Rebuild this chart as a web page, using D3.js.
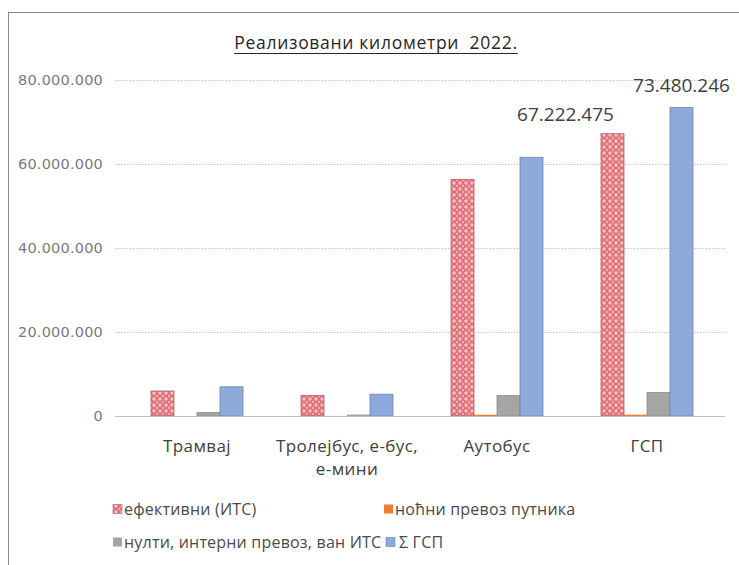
<!DOCTYPE html>
<html><head><meta charset="utf-8">
<script src="https://cdn.jsdelivr.net/npm/d3@7"></script>
<style>
html,body{margin:0;padding:0;background:#fff;}
svg{display:block;}
</style>
</head><body>
<svg id="chart" width="739" height="565"></svg>
<script>
const title = "Реализовани километри  2022.";
const categories = ["Трамвај", "Тролејбус, е-бус, е-мини", "Аутобус", "ГСП"];
const categoryLines = [["Трамвај"], ["Тролејбус, е-бус,", "е-мини"], ["Аутобус"], ["ГСП"]];
const seriesNames = ["ефективни (ИТС)", "ноћни превоз путника", "нулти, интерни превоз, ван ИТС", "Σ ГСП"];
const effective = [5950000, 4900000, 56350000, 67222475];
const night = [0, 20000, 300000, 320000];
const nullInternal = [850000, 350000, 4900000, 5600000];
const totalGSP = [6950000, 5200000, 61600000, 73480246];
const yTicks = [0, 20000000, 40000000, 60000000, 80000000];
const labelled = [{series: 0, cat: 3}, {series: 3, cat: 3}];

const seriesValues = [effective, night, nullInternal, totalGSP];
const colors = ["url(#redPattern)", "#ed7d31", "#a5a5a5", "#8eaadb"];
const strokes = ["#b06060", "#ed7d31", "#8c8c8c", "#6f83aa"];

const svg = d3.select("#chart");
const defs = svg.append("defs");
const pat = defs.append("pattern").attr("id", "redPattern").attr("patternUnits", "userSpaceOnUse")
  .attr("width", 6).attr("height", 6);
pat.append("rect").attr("width", 6).attr("height", 6).attr("fill", "#e0707a");
pat.append("circle").attr("cx", 3).attr("cy", 3).attr("r", 1.7).attr("fill", "#f7c4c4");
pat.append("circle").attr("cx", 0).attr("cy", 0).attr("r", 1.2).attr("fill", "#f2b0b0");
pat.append("circle").attr("cx", 6).attr("cy", 0).attr("r", 1.2).attr("fill", "#f2b0b0");
pat.append("circle").attr("cx", 0).attr("cy", 6).attr("r", 1.2).attr("fill", "#f2b0b0");
pat.append("circle").attr("cx", 6).attr("cy", 6).attr("r", 1.2).attr("fill", "#f2b0b0");

// frame
svg.append("rect").attr("x", 8.5).attr("y", 12.5).attr("width", 740).attr("height", 560)
  .attr("fill", "none").attr("stroke", "#8a8a8a").attr("stroke-width", 1);

const x0 = d3.scaleBand().domain(categories).range([122, 722])
  .paddingInner(58 / 150).paddingOuter(29 / 150);
const x1 = d3.scaleBand().domain(d3.range(seriesNames.length)).range([0, x0.bandwidth()]);
const y = d3.scaleLinear().domain([0, 80000000]).range([416, 80]);

const fmt = v => d3.format(",")(v).replace(/,/g, ".");

// gridlines
const gx0 = x0.range()[0] - 7, gx1 = x0.range()[1] + 3;
svg.append("g").selectAll("line").data(yTicks.filter(d => d > 0)).join("line")
  .attr("x1", gx0).attr("x2", gx1)
  .attr("y1", d => Math.round(y(d)) + 0.5).attr("y2", d => Math.round(y(d)) + 0.5)
  .attr("stroke", "#c4c4c4").attr("stroke-width", 1).attr("stroke-dasharray", "1.5,1.5");

// y tick labels
svg.append("g").selectAll("text").data(yTicks).join("text")
  .attr("x", 103).attr("y", d => y(d)).attr("dy", "0.35em").attr("text-anchor", "end")
  .attr("font-family", "DejaVu Sans").attr("font-size", "14.5px").attr("letter-spacing", "0.2px")
  .attr("fill", "#7a7a7a")
  .text(d => fmt(d));

// bars
const groups = svg.append("g").selectAll("g").data(categories).join("g")
  .attr("transform", d => `translate(${x0(d)},0)`);
groups.selectAll("rect").data((c, ci) => seriesValues.map((arr, si) => ({si, v: arr[ci]})))
  .join("rect")
  .attr("x", d => x1(d.si)).attr("width", x1.bandwidth())
  .attr("y", d => y(d.v)).attr("height", d => y(0) - y(d.v))
  .attr("fill", d => colors[d.si])
  .attr("stroke", d => d.v > 500000 ? strokes[d.si] : "none").attr("stroke-width", 0.8);

// baseline
svg.append("line").attr("x1", gx0).attr("x2", gx1).attr("y1", y(0) + 0.5).attr("y2", y(0) + 0.5)
  .attr("stroke", "#bfbfbf").attr("stroke-width", 1);

// data labels
const labelOffsets = [-47, 0];
svg.append("g").selectAll("text").data(labelled).join("text")
  .attr("x", (d, i) => x0(categories[d.cat]) + x1(d.series) + x1.bandwidth() / 2 + labelOffsets[i])
  .attr("y", (d, i) => y(seriesValues[d.series][d.cat]) - (i === 0 ? 13 : 15))
  .attr("text-anchor", "middle").attr("font-family", "Open Sans").attr("font-size", "19px")
  .attr("fill", "#404040")
  .text(d => fmt(seriesValues[d.series][d.cat]));

// category labels
const catG = svg.append("g").selectAll("text").data(categories).join("text")
  .attr("x", d => x0(d) + x0.bandwidth() / 2).attr("y", 452)
  .attr("text-anchor", "middle").attr("font-family", "Open Sans").attr("font-size", "17px")
  .attr("letter-spacing", "0.4px").attr("fill", "#404040");
catG.selectAll("tspan").data((d, i) => categoryLines[i]).join("tspan")
  .attr("x", function() { return d3.select(this.parentNode).attr("x"); })
  .attr("dy", (d, i) => i === 0 ? 0 : 23).text(d => d);

// title
const t = svg.append("text").attr("x", 376).attr("y", 49).attr("text-anchor", "middle")
  .attr("font-family", "Open Sans").attr("font-size", "17.5px").attr("letter-spacing", "0.7px")
  .attr("fill", "#262626")
  .attr("xml:space", "preserve").style("white-space", "pre").text(title);
const bb = t.node().getBBox();
svg.append("line").attr("x1", bb.x).attr("x2", bb.x + bb.width).attr("y1", 53.5).attr("y2", 53.5)
  .attr("stroke", "#262626").attr("stroke-width", 1);

// legend
const legendPos = [{x: 113, y: 509}, {x: 384, y: 509}, {x: 113, y: 542}, {x: 386, y: 542}];
const lg = svg.append("g").selectAll("g").data(seriesNames).join("g")
  .attr("transform", (d, i) => `translate(${legendPos[i].x},${legendPos[i].y})`);
lg.append("rect").attr("x", 0).attr("y", -4.5).attr("width", 9).attr("height", 9)
  .attr("fill", (d, i) => colors[i]).attr("stroke", (d, i) => i === 0 || i === 3 ? strokes[i] : "none")
  .attr("stroke-width", 0.6);
lg.append("text").attr("x", (d, i) => i === 3 ? 13 : 11).attr("y", 0).attr("dy", "0.35em")
  .attr("font-family", "Open Sans").attr("font-size", "16px").attr("letter-spacing", "0.2px")
  .attr("fill", "#4a4a4a")
  .text(d => d);
</script>
</body></html>
